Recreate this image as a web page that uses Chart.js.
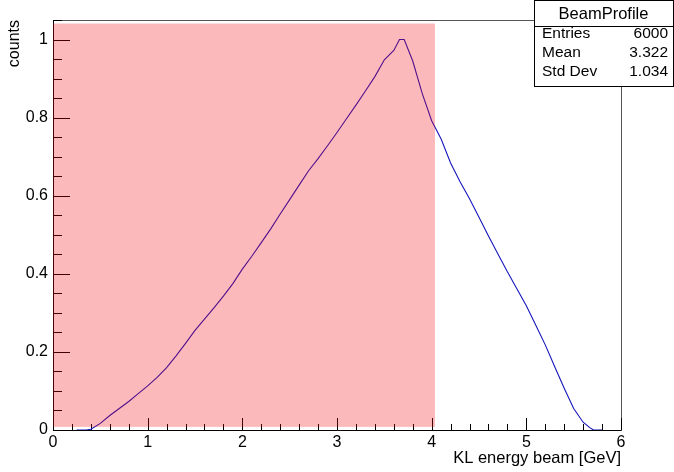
<!DOCTYPE html>
<html>
<head>
<meta charset="utf-8">
<script src="https://cdn.jsdelivr.net/npm/chart.js@4.4.1/dist/chart.umd.min.js"></script>
<style>
  html, body { margin: 0; padding: 0; background: #fff; }
</style>
</head>
<body>
<canvas id="chart" width="674" height="472"></canvas>
<script>
// HISTOGRAM DATA
const energies = [0.25, 0.3, 0.35, 0.4, 0.5, 0.6, 0.7, 0.8, 0.9, 1.0,
  1.1, 1.2, 1.3, 1.4, 1.5, 1.6, 1.7, 1.8, 1.9, 2.0,
  2.1, 2.2, 2.3, 2.4, 2.5, 2.6, 2.7, 2.8, 2.9, 3.0,
  3.1, 3.2, 3.3, 3.4, 3.5, 3.6, 3.66, 3.71, 3.8, 3.9,
  4.0, 4.1, 4.2, 4.3, 4.4, 4.5, 4.6, 4.7, 4.8, 4.9,
  5.0, 5.1, 5.2, 5.3, 5.4, 5.5, 5.6, 5.67, 5.71, 5.8];
const counts = [0, 0, 0, 0.002, 0.017, 0.037, 0.055, 0.073, 0.093, 0.113,
  0.135, 0.16, 0.19, 0.222, 0.255, 0.284, 0.313, 0.343, 0.375, 0.412,
  0.445, 0.48, 0.515, 0.553, 0.59, 0.627, 0.664, 0.695, 0.728, 0.762,
  0.797, 0.832, 0.868, 0.905, 0.948, 0.972, 1.0, 1.0, 0.945, 0.862,
  0.792, 0.745, 0.684, 0.636, 0.592, 0.545, 0.497, 0.451, 0.405, 0.362,
  0.318, 0.268, 0.218, 0.162, 0.107, 0.055, 0.02, 0.006, 0, 0];

const xTicks = [0, 1, 2, 3, 4, 5, 6];
const yTicks = [0, 0.2, 0.4, 0.6, 0.8, 1];

const histName = 'BeamProfile';
const statNames = ['Entries', 'Mean', 'Std Dev'];
const statValues = ['6000', '3.322', '1.034'];

// shaded region, data units: x from / to, y from / to
const shadeX = [0, 4.035];
const shadeY = [0.008, 1.041];

const FONT = 'Liberation Sans, Arial, Helvetica, sans-serif';

// ROOT style frame + ticks inside the frame
const rootFrame = {
  id: 'rootFrame',
  beforeDatasetsDraw(chart) {
    const { ctx, chartArea: a, scales: { x, y } } = chart;
    ctx.save();
    ctx.lineWidth = 1;

    // frame
    ctx.strokeStyle = '#555';
    ctx.strokeRect(a.left + 0.5, a.top + 0.5, a.right - a.left, a.bottom - a.top);

    ctx.strokeStyle = '#000';
    ctx.beginPath();
    // y ticks, major every 0.2, minor every 0.05
    for (let i = 0; i <= 21; i++) {
      const v = i * 0.05;
      const py = Math.round(y.getPixelForValue(v)) + 0.5;
      const len = i % 4 === 0 ? 17 : 9;
      ctx.moveTo(a.left, py);
      ctx.lineTo(a.left + len, py);
    }
    // x ticks, major every 1, minor every 0.2
    for (let i = 0; i <= 30; i++) {
      const v = i * 0.2;
      const px = Math.round(x.getPixelForValue(v)) + 0.5;
      const len = i % 5 === 0 ? 12 : 6;
      ctx.moveTo(px, a.bottom);
      ctx.lineTo(px, a.bottom - len);
    }
    ctx.stroke();

    // axis lines
    ctx.beginPath();
    ctx.moveTo(a.left + 0.5, a.top);
    ctx.lineTo(a.left + 0.5, a.bottom + 0.5);
    ctx.lineTo(a.right, a.bottom + 0.5);
    ctx.stroke();
    ctx.restore();
  }
};

// translucent red box drawn over the histogram
const shade = {
  id: 'shade',
  afterDatasetsDraw(chart) {
    const { ctx, scales: { x, y } } = chart;
    const x1 = x.getPixelForValue(shadeX[0]);
    const x2 = x.getPixelForValue(shadeX[1]);
    const y1 = y.getPixelForValue(shadeY[1]);
    const y2 = y.getPixelForValue(shadeY[0]);
    ctx.save();
    ctx.fillStyle = 'rgba(240, 0, 10, 0.275)';
    ctx.fillRect(x1, y1, x2 - x1, y2 - y1);
    ctx.restore();
  }
};

// statistics box top right
const statsBox = {
  id: 'statsBox',
  afterDraw(chart) {
    const ctx = chart.ctx;
    const left = 534, right = 673, top = 0, bottom = 86, sep = 26;
    ctx.save();
    ctx.fillStyle = '#fff';
    ctx.fillRect(left, top, right - left, bottom - top);
    ctx.strokeStyle = '#000';
    ctx.lineWidth = 1;
    ctx.strokeRect(left + 0.5, top + 0.5, right - left, bottom - top);
    ctx.beginPath();
    ctx.moveTo(left, sep + 0.5);
    ctx.lineTo(right, sep + 0.5);
    ctx.stroke();

    ctx.fillStyle = '#000';
    ctx.textBaseline = 'middle';
    ctx.font = '16.5px ' + FONT;
    ctx.textAlign = 'center';
    ctx.fillText(histName, (left + right) / 2, 14);

    ctx.font = '15.5px ' + FONT;
    statNames.forEach((name, i) => {
      const ty = 34 + i * 19;
      ctx.textAlign = 'left';
      ctx.fillText(name, 542, ty);
      ctx.textAlign = 'right';
      ctx.fillText(statValues[i], 668, ty);
    });
    ctx.restore();
  }
};

const ctx = document.getElementById('chart').getContext('2d');
new Chart(ctx, {
  type: 'line',
  data: {
    datasets: [{
      label: histName,
      data: energies.map((e, i) => ({ x: e, y: counts[i] })),
      borderColor: '#1616bc',
      borderWidth: 1.1,
      pointRadius: 0,
      tension: 0,
      fill: false
    }]
  },
  options: {
    responsive: false,
    animation: false,
    devicePixelRatio: 1,
    layout: { padding: { top: 20, right: 53, left: 0, bottom: 0 } },
    plugins: {
      legend: { display: false },
      tooltip: { enabled: false }
    },
    scales: {
      x: {
        type: 'linear',
        min: 0,
        max: 6,
        afterFit: s => { s.height = 42; },
        afterBuildTicks: s => { s.ticks = xTicks.map(v => ({ value: v })); },
        grid: { display: false, drawTicks: false },
        border: { display: false },
        ticks: {
          color: '#000',
          font: { family: FONT, size: 16 },
          padding: 3,
          maxRotation: 0,
          autoSkip: false,
          callback: v => String(v)
        },
        title: {
          display: true,
          text: 'KL energy beam [GeV]',
          align: 'end',
          color: '#000',
          font: { family: FONT, size: 16.5 },
          padding: { top: 0, bottom: 4 }
        }
      },
      y: {
        type: 'linear',
        min: 0,
        max: 1.05,
        afterFit: s => { s.width = 53; },
        afterBuildTicks: s => { s.ticks = yTicks.map(v => ({ value: v })); },
        grid: { display: false, drawTicks: false },
        border: { display: false },
        ticks: {
          color: '#000',
          font: { family: FONT, size: 16 },
          padding: 5,
          autoSkip: false,
          callback: v => String(+v.toFixed(2))
        },
        title: {
          display: true,
          text: 'counts',
          align: 'end',
          color: '#000',
          font: { family: FONT, size: 16 },
          padding: { top: 5, bottom: 0 }
        }
      }
    }
  },
  plugins: [rootFrame, shade, statsBox]
});
</script>
</body>
</html>
